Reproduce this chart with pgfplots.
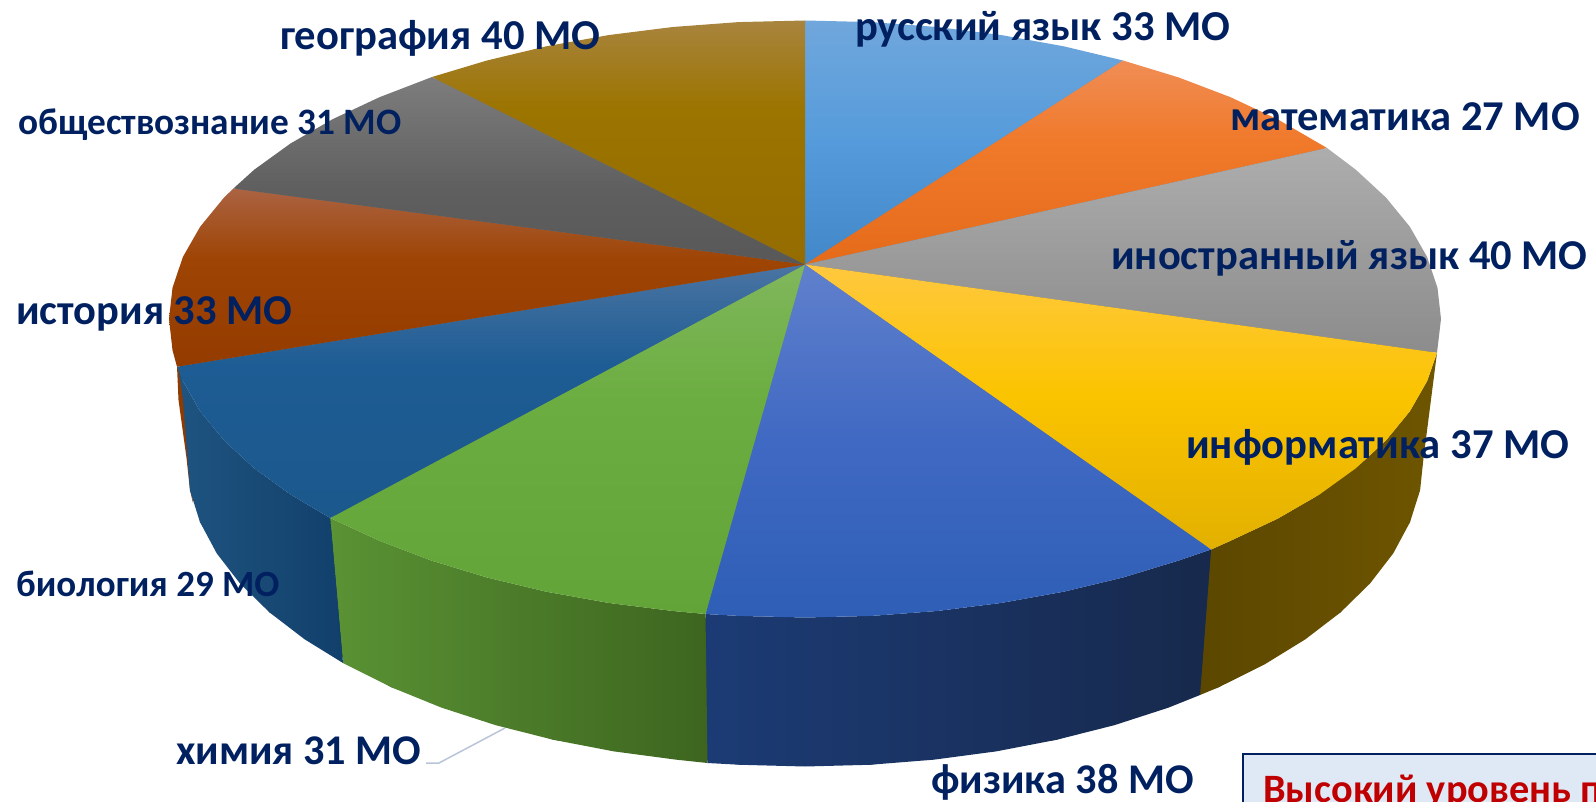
\documentclass[border=0pt]{standalone}
\usepackage{pgfplots}
\usepackage{fontspec}
\setmainfont{Carlito}
\pgfplotsset{compat=1.18}
\definecolor{lab}{HTML}{002060}
\newcommand{\lbl}[4]{\node[anchor=base west,inner sep=0pt,text=lab,font=\fontsize{#4}{#4}\selectfont\bfseries] at (axis cs:#1,#2) {#3};}
% name, top colour, position of the middle stop (75 = top of slice, 25 = bottom), middle colour, bottom colour
\newcommand{\mkshade}[5]{%
  \definecolor{#1T}{HTML}{#2}\definecolor{#1M}{HTML}{#4}\definecolor{#1B}{HTML}{#5}%
  \pgfdeclareverticalshading{#1}{100bp}{color(0bp)=(#1B); color(25bp)=(#1B); color(#3bp)=(#1M); color(75bp)=(#1T); color(100bp)=(#1T)}}
\mkshade{srus}{70A7DC}{50}{559BDB}{4287C8}
\mkshade{smat}{F08D55}{55}{F0792A}{E56B1A}
\mkshade{sfor}{ADADAD}{50}{9C9C9C}{8C8C8C}
\mkshade{sinf}{FFC83F}{52}{FBC400}{E2B000}
\mkshade{sphy}{6080CC}{50}{4069C3}{2E5EB6}
\mkshade{schm}{80B75C}{55}{6BAD40}{62A437}
\mkshade{sbio}{4A74A2}{55}{1D5C94}{1B588C}
\mkshade{shis}{AB6342}{55}{9E4404}{943B00}
\mkshade{ssoc}{7D7D7D}{45}{5F5F5F}{585858}
\mkshade{sgeo}{A8843E}{57}{9C7400}{946C00}
\begin{document}
\begin{tikzpicture}
\begin{axis}[name=a,scale only axis,width=1596pt,height=802pt,xmin=0,xmax=1596,ymin=0,ymax=802,y dir=reverse,axis lines=none,clip=false]
% leader line
\addplot[color={rgb,255:red,184;green,196;blue,216},line width=1.5pt] coordinates {(505,728)(439,763)(426,763)};
% underlay of the side, against seams
\addplot[draw=none,fill={rgb,255:red,40;green,58;blue,70}] coordinates {(1420,430)(1386,445)(1277.6,525)(1123,585)(937.2,618)(738.5,622)(546.3,598)(379.5,547)(254.2,475)(190,420)(200,522.1)(269.4,612.3)(391.2,687.2)(553.5,739.8)(740.4,764.8)(869.6,764.8)(1056.5,739.8)(1218.8,687.2)(1340.6,612.3)(1410,522.1)} -- cycle;
% sides
\addplot[draw=none,left color={rgb,255:red,92;green,71;blue,0},right color={rgb,255:red,110;green,85;blue,0}] coordinates {(1437,352.8)(1427.1,381.1)(1409.9,411.2)(1386,440.4)(1355.8,468.3)(1319.5,494.5)(1277.6,518.7)(1230.5,540.8)(1211,549.5)(1200,695)(1218.8,687.2)(1264.6,664.4)(1305.4,639.3)(1340.6,612.3)(1370,583.5)(1393.3,553.3)(1410,522.1)(1420.1,490.2)(1423.5,458)} -- cycle;
\addplot[draw=none,left color={rgb,255:red,28;green,59;blue,117},middle color={rgb,255:red,21;green,42;blue,85},right color={rgb,255:red,23;green,41;blue,76}] coordinates {(1211,549.5)(1178.8,560.5)(1123,577.5)(1063.7,591.7)(1001.5,602.9)(937.2,611)(871.5,615.9)(805,617.5)(738.5,615.9)(705.5,614)(707.5,763)(740.4,764.8)(805,766.5)(869.6,764.8)(933.6,759.7)(996.1,751.4)(1056.5,739.8)(1114.3,725.2)(1168.6,707.6)(1200,695)} -- cycle;
\addplot[draw=none,left color={rgb,255:red,90;green,146;blue,52},right color={rgb,255:red,61;green,101;blue,31}] coordinates {(705.5,614)(672.8,611)(608.5,602.9)(546.3,591.7)(487,577.5)(431.2,560.5)(379.5,540.8)(330.2,518)(343,663)(391.2,687.2)(441.4,707.6)(495.7,725.2)(553.5,739.8)(613.9,751.4)(676.4,759.7)(707.5,763)} -- cycle;
\addplot[draw=none,fill={rgb,255:red,142;green,58;blue,0}] coordinates {(177,366)(178.5,400)(186.5,458)(190,490)(193,503)(186,400)(181,372)} -- cycle;
\addplot[draw=none,left color={rgb,255:red,31;green,84;blue,128},right color={rgb,255:red,18;green,63;blue,107}] coordinates {(330.2,518)(290.5,494.5)(254.2,468.3)(224,440.4)(200.1,411.2)(182.9,381.1)(179,372)(183,400)(189.9,490.2)(200,522.1)(216.7,553.3)(240,583.5)(269.4,612.3)(304.6,639.3)(343,663)} -- cycle;
% underlay of the top, against seams
\addplot[draw=none,fill={rgb,255:red,120;green,120;blue,120}] coordinates {(1438,319)(1425,256.9)(1384,197.6)(1318,143.5)(1229,97.2)(1122,62)(1001,37)(871.5,24)(738.5,24)(608.5,37)(487,62)(380,99)(291,145)(225,199)(184,258)(172,319)(184,380)(225,439)(291,493)(380,539)(487,575)(608.5,601)(738.5,614)(871.5,614)(1001,601)(1122,575)(1229,539)(1318,493)(1384,439)(1425,380)} -- cycle;
% top face
\addplot[draw=none,shade,shading=srus] coordinates {(805,264.5)(805,20.5)(871.5,22.1)(937.2,27)(1001.5,35.1)(1063.7,46.3)(1123,60.5)} -- cycle;
\addplot[draw=none,shade,shading=smat] coordinates {(805,264.5)(1123,60.5)(1178.8,77.5)(1230.5,97.2)(1277.6,119.3)(1327,148)} -- cycle;
\addplot[draw=none,shade,shading=sfor] coordinates {(805,264.5)(1327,148)(1355.8,169.7)(1386,197.6)(1409.9,226.8)(1427.1,256.9)(1437.5,287.8)(1441,319)(1437,352.8)} -- cycle;
\addplot[draw=none,shade,shading=sinf] coordinates {(805,264.5)(1437,352.8)(1427.1,381.1)(1409.9,411.2)(1386,440.4)(1355.8,468.3)(1319.5,494.5)(1277.6,518.7)(1230.5,540.8)(1211,549.5)} -- cycle;
\addplot[draw=none,shade,shading=sphy] coordinates {(805,264.5)(1211,549.5)(1178.8,560.5)(1123,577.5)(1063.7,591.7)(1001.5,602.9)(937.2,611)(871.5,615.9)(805,617.5)(738.5,615.9)(705.5,614)} -- cycle;
\addplot[draw=none,shade,shading=schm] coordinates {(805,264.5)(705.5,614)(672.8,611)(608.5,602.9)(546.3,591.7)(487,577.5)(431.2,560.5)(379.5,540.8)(330.2,518)} -- cycle;
\addplot[draw=none,shade,shading=sbio] coordinates {(805,264.5)(330.2,518)(290.5,494.5)(254.2,468.3)(224,440.4)(200.1,411.2)(182.9,381.1)(177,366.7)} -- cycle;
\addplot[draw=none,shade,shading=shis] coordinates {(805,264.5)(177,366.7)(172.5,350.2)(169,319)(172.5,287.8)(182.9,256.9)(200.1,226.8)(224,197.6)(233.4,188.5)} -- cycle;
\addplot[draw=none,shade,shading=ssoc] coordinates {(805,264.5)(233.4,188.5)(254.2,169.7)(290.5,143.5)(332.4,119.3)(379.5,97.2)(432,77)} -- cycle;
\addplot[draw=none,shade,shading=sgeo] coordinates {(805,264.5)(432,77)(487,60.5)(546.3,46.3)(608.5,35.1)(672.8,27)(738.5,22.1)(805,20.5)} -- cycle;
% labels
\lbl{855}{41}{русский язык 33 МО}{42.6}
\lbl{1230}{131}{математика 27 МО}{42.5}
\lbl{1111}{270}{иностранный язык 40 МО}{42.5}
\lbl{1186}{458}{информатика 37 МО}{42.6}
\lbl{931}{793}{физика 38 МО}{42.3}
\lbl{176}{764}{химия 31 МО}{42.3}
\lbl{16}{596}{биология 29 МО}{37}
\lbl{16}{325}{история 33 МО}{42.5}
\lbl{18}{135}{обществознание 31 МО}{37.3}
\lbl{280}{50}{география 40 МО}{42.6}
% box clipped by the page
\begin{scope}
\clip (axis cs:0,0) rectangle (axis cs:1596,802);
\addplot[draw={rgb,255:red,0;green,32;blue,96},line width=2pt,fill={rgb,255:red,222;green,233;blue,245}] coordinates {(1243,753.5)(1640,753.5)(1640,840)(1243,840)} -- cycle;
\node[anchor=base west,inner sep=0pt,text={rgb,255:red,192;green,0;blue,0},font=\fontsize{40.3}{40.3}\selectfont\bfseries] at (axis cs:1263,802) {Высокий уровень п};
\end{scope}
\end{axis}
\pgfresetboundingbox
\useasboundingbox (a.south west) rectangle (a.north east);
\end{tikzpicture}
\end{document}
